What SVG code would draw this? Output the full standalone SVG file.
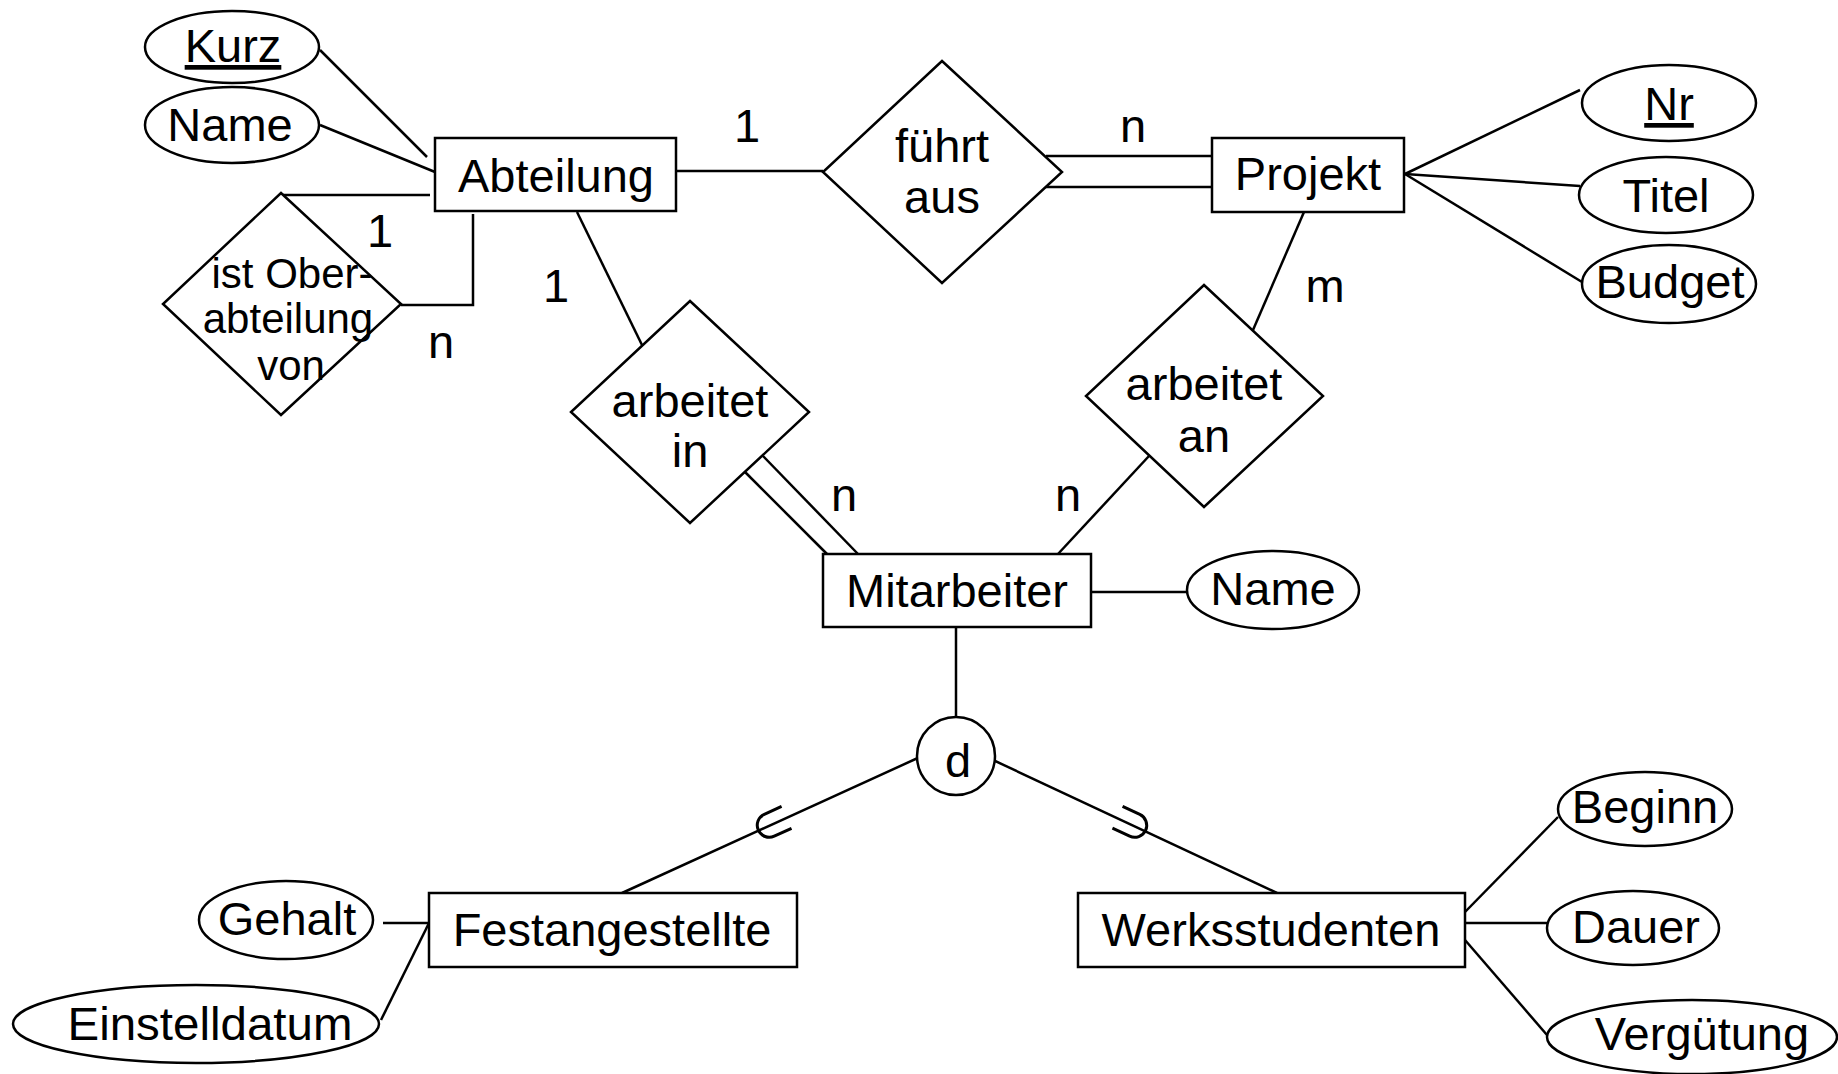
<svg xmlns="http://www.w3.org/2000/svg" width="1838" height="1074" viewBox="0 0 1838 1074">
<defs>
<style>
.s{fill:#fff;stroke:#000;stroke-width:2.5}
.c line,.c polyline{fill:none;stroke:#000;stroke-width:2.5}
.sym{fill:none;stroke:#000;stroke-width:3}
text{font-family:"Liberation Sans",Arial,sans-serif;font-size:47px;fill:#000;stroke:none;text-anchor:middle}
.sm{font-size:42px}
</style>
<path id="sub" d="M16,-12 H-3 A12,12 0 0 0 -3,12 H16" fill="none" stroke="#000" stroke-width="3"/>
</defs>
<rect width="1838" height="1074" fill="#fff"/>
<g id="connectors" class="c">
<line x1="320" y1="50" x2="427" y2="157"/>
<line x1="320" y1="125" x2="435" y2="172"/>
<line x1="282" y1="195" x2="430" y2="195"/>
<polyline points="401,305 473,305 473,214"/>
<line x1="676" y1="171" x2="823" y2="171"/>
<line x1="1046" y1="156" x2="1212" y2="156"/>
<line x1="1045" y1="187" x2="1212" y2="187"/>
<line x1="1405" y1="174" x2="1580" y2="90"/>
<line x1="1405" y1="174" x2="1580" y2="186"/>
<line x1="1405" y1="174" x2="1582" y2="282"/>
<line x1="577" y1="212" x2="642" y2="345"/>
<line x1="745" y1="472" x2="827" y2="554"/>
<line x1="763" y1="456" x2="858" y2="554"/>
<line x1="1304" y1="212" x2="1253" y2="330"/>
<line x1="1149" y1="456" x2="1058" y2="554"/>
<line x1="1091" y1="592" x2="1187" y2="592"/>
<line x1="956" y1="627" x2="956" y2="717"/>
<line x1="920" y1="757" x2="622" y2="893"/>
<line x1="993" y1="760" x2="1277" y2="893"/>
<line x1="383" y1="923" x2="429" y2="923"/>
<line x1="381" y1="1020" x2="429" y2="923"/>
<line x1="1465" y1="912" x2="1558" y2="817"/>
<line x1="1465" y1="923" x2="1547" y2="923"/>
<line x1="1465" y1="940" x2="1547" y2="1035"/>
<use href="#sub" class="sym" transform="translate(772,824) rotate(-24.5)"/>
<use href="#sub" class="sym" transform="translate(1132,824) rotate(205)"/>
<text x="747" y="142">1</text>
<text x="1133" y="142">n</text>
<text x="380" y="247">1</text>
<text x="441" y="358">n</text>
<text x="556" y="302">1</text>
<text x="1325" y="302">m</text>
<text x="844" y="511">n</text>
<text x="1068" y="511">n</text>
</g>
<g id="Kurz"><ellipse class="s" cx="232" cy="47" rx="87" ry="36"/><text x="233" y="62" text-decoration="underline">Kurz</text></g>
<g id="NameAbt"><ellipse class="s" cx="232" cy="125" rx="87" ry="38"/><text x="230" y="141">Name</text></g>
<g id="Abteilung"><rect class="s" x="435" y="138" width="241" height="73"/><text x="556" y="192">Abteilung</text></g>
<g id="istOber"><polygon class="s" points="281,193 401,304 281,415 163,304"/><text class="sm" x="292" y="288">ist Ober-</text><text class="sm" x="288" y="333">abteilung</text><text class="sm" x="291" y="380">von</text></g>
<g id="fuehrtAus"><polygon class="s" points="942,61 1062,172 942,283 823,172"/><text x="942" y="162">führt</text><text x="942" y="213">aus</text></g>
<g id="Projekt"><rect class="s" x="1212" y="138" width="192" height="74"/><text x="1308" y="190">Projekt</text></g>
<g id="Nr"><ellipse class="s" cx="1669" cy="103" rx="87" ry="38"/><text x="1669" y="120" text-decoration="underline">Nr</text></g>
<g id="Titel"><ellipse class="s" cx="1666" cy="195" rx="87" ry="38"/><text x="1666" y="212">Titel</text></g>
<g id="Budget"><ellipse class="s" cx="1669" cy="284" rx="87" ry="39"/><text x="1670" y="298">Budget</text></g>
<g id="arbeitetIn"><polygon class="s" points="690,301 809,412 690,523 571,412"/><text x="690" y="417">arbeitet</text><text x="690" y="467">in</text></g>
<g id="arbeitetAn"><polygon class="s" points="1204,285 1323,396 1204,507 1086,396"/><text x="1204" y="400">arbeitet</text><text x="1204" y="452">an</text></g>
<g id="Mitarbeiter"><rect class="s" x="823" y="554" width="268" height="73"/><text x="957" y="607">Mitarbeiter</text></g>
<g id="NameMit"><ellipse class="s" cx="1273" cy="590" rx="86" ry="39"/><text x="1273" y="605">Name</text></g>
<g id="d"><circle class="s" cx="956" cy="756" r="39"/><text x="958" y="777">d</text></g>
<g id="Festangestellte"><rect class="s" x="429" y="893" width="368" height="74"/><text x="612" y="946">Festangestellte</text></g>
<g id="Werksstudenten"><rect class="s" x="1078" y="893" width="387" height="74"/><text x="1271" y="946">Werksstudenten</text></g>
<g id="Gehalt"><ellipse class="s" cx="286" cy="920" rx="87" ry="39"/><text x="287" y="935">Gehalt</text></g>
<g id="Einstelldatum"><ellipse class="s" cx="196" cy="1024" rx="183" ry="39"/><text x="210" y="1040" textLength="285" lengthAdjust="spacingAndGlyphs">Einstelldatum</text></g>
<g id="Beginn"><ellipse class="s" cx="1645" cy="809" rx="87" ry="37"/><text x="1645" y="823">Beginn</text></g>
<g id="Dauer"><ellipse class="s" cx="1633" cy="928" rx="86" ry="37"/><text x="1636" y="943">Dauer</text></g>
<g id="Verguetung"><ellipse class="s" cx="1692" cy="1037" rx="145" ry="37"/><text x="1702" y="1050">Vergütung</text></g>
</svg>
